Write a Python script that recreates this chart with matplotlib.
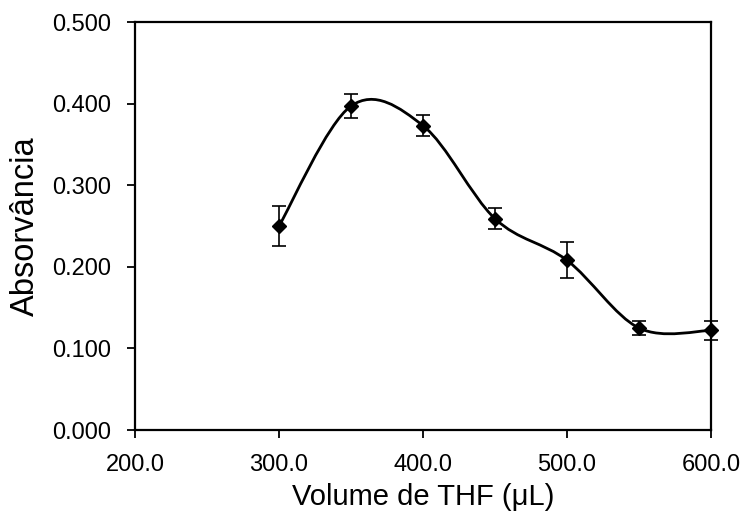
"""
Absorbance vs THF volume, with Excel-style smoothed line.
"""

import numpy as np
import matplotlib.pyplot as plt
from matplotlib.path import Path
from matplotlib.patches import PathPatch

plt.rcParams['font.family'] = ['Liberation Sans', 'DejaVu Sans']

volume = [300, 350, 400, 450, 500, 550, 600]
absorb = [0.250, 0.397, 0.373, 0.259, 0.208, 0.125, 0.122]
err = [0.024, 0.015, 0.013, 0.013, 0.022, 0.009, 0.012]

xticks = [200, 300, 400, 500, 600]
yticks = [0.0, 0.1, 0.2, 0.3, 0.4, 0.5]

fig = plt.figure(figsize=(7.43, 5.23), dpi=100)
ax = fig.add_axes([0.1817, 0.1778, 0.7752, 0.7801])
ax.set_xlim(200, 600)
ax.set_ylim(0, 0.5)
ax.set_xticks(xticks)
ax.set_xticklabels(['%.1f' % t for t in xticks])
ax.set_yticks(yticks)
ax.set_yticklabels(['%.3f' % t for t in yticks])
ax.tick_params(direction='out', length=6, width=1.3, labelsize=17, pad=11)
for s in ax.spines.values():
    s.set_linewidth(1.6)
ax.set_xlabel('Volume de THF (μL)', fontsize=21, labelpad=5)
ax.set_ylabel('Absorvância', fontsize=23.5, labelpad=8)

# smoothed line (Catmull-Rom as Bezier, in display space like Excel)
pts = ax.transData.transform(np.column_stack([volume, absorb]))
verts = [pts[0]]
codes = [Path.MOVETO]
n = len(pts)
for i in range(n - 1):
    p0 = pts[max(i - 1, 0)]
    p1 = pts[i]
    p2 = pts[i + 1]
    p3 = pts[min(i + 2, n - 1)]
    c1 = p1 + (p2 - p0) / 6.0
    c2 = p2 - (p3 - p1) / 6.0
    verts += [c1, c2, p2]
    codes += [Path.CURVE4] * 3
verts = ax.transData.inverted().transform(np.array(verts))
ax.add_patch(PathPatch(Path(verts, codes), fill=False, lw=2, color='black', zorder=2))

ax.errorbar(volume, absorb, yerr=err, fmt='D', color='black', ms=7.5,
            ecolor='black', elinewidth=1.2, capsize=5, capthick=1.2, zorder=3,
            clip_on=False)

plt.savefig('out.png', dpi=100)
